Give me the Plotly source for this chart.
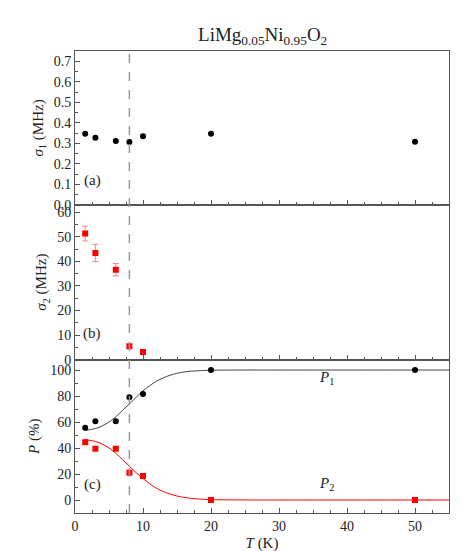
import plotly.graph_objects as go

T = [1.5, 3, 6, 8, 10, 20, 50]
sigma1 = [0.347, 0.327, 0.311, 0.306, 0.334, 0.347, 0.308]
T2 = [1.5, 3, 6, 8, 10]
sigma2 = [51.3, 43.4, 36.6, 5.4, 3.1]
sigma2_err = [3.0, 3.5, 2.5, 0.8, 0.6]
P1 = [55.5, 60.5, 60.5, 79, 81.5, 100, 100]
P2 = [44.5, 39.5, 39.5, 21, 18.5, 0, 0]
fitT = [1.5, 3, 4, 5, 6, 7, 8, 9, 10, 11, 12, 13, 14, 16, 18, 20, 25, 30, 55]
fitP1 = [53.5, 55, 57, 60, 64, 69, 74, 79, 84, 88, 91.5, 94, 96, 98.5, 99.4, 99.8, 100, 100, 100]
fitP2 = [46.5, 45, 43, 40, 36, 31, 26, 21, 16.5, 12.5, 9, 6.5, 4.5, 2, 0.8, 0.3, 0.05, 0, 0]

F = "Liberation Serif, Times New Roman, serif"
fig = go.Figure()
fig.add_trace(go.Scatter(x=T, y=sigma1, mode="markers", marker=dict(color="black", size=6), xaxis="x3", yaxis="y3"))
fig.add_trace(go.Scatter(x=T2, y=sigma2, mode="markers", marker=dict(color="red", size=6, symbol="square"),
                         error_y=dict(array=sigma2_err, color="#e88", thickness=1, width=3), xaxis="x2", yaxis="y2"))
fig.add_trace(go.Scatter(x=fitT, y=fitP1, mode="lines", line=dict(color="#444", width=1, shape="spline"), xaxis="x", yaxis="y"))
fig.add_trace(go.Scatter(x=fitT, y=fitP2, mode="lines", line=dict(color="red", width=1, shape="spline"), xaxis="x", yaxis="y"))
fig.add_trace(go.Scatter(x=T, y=P1, mode="markers", marker=dict(color="black", size=6), xaxis="x", yaxis="y"))
fig.add_trace(go.Scatter(x=T, y=P2, mode="markers", marker=dict(color="red", size=6, symbol="square"), xaxis="x", yaxis="y"))

def mn(d):
    return dict(ticks="inside", ticklen=3, tickcolor="#555", dtick=d)

ax = dict(showgrid=False, zeroline=False, showline=True, linecolor="#555", linewidth=1, mirror=True,
          ticks="inside", ticklen=5, tickcolor="#555", tickfont=dict(size=14, family=F))
xcommon = dict(ax, range=[0, 55], dtick=10, minor=mn(2.5))
tf = dict(size=15, family=F)
fig.update_layout(
    width=463, height=551, plot_bgcolor="white", paper_bgcolor="white", showlegend=False,
    margin=dict(l=67, r=22, t=43, b=46), font=dict(family=F, color="#222"),
    title=dict(text="LiMg<sub>0.05</sub>Ni<sub>0.95</sub>O<sub>2</sub>", x=0.55, xanchor="center", y=0.965, font=dict(size=19, family=F)),
    xaxis=dict(xcommon, anchor="y", title=dict(text="<i>T</i> (K)", font=tf, standoff=4)),
    xaxis2=dict(xcommon, anchor="y2", matches="x", showticklabels=False),
    xaxis3=dict(xcommon, anchor="y3", matches="x", showticklabels=False),
    yaxis=dict(ax, anchor="x", domain=[0, 0.332], range=[-10, 108], dtick=20, minor=mn(10),
               title=dict(text="<i>P</i> (%)", font=tf, standoff=6)),
    yaxis2=dict(ax, anchor="x2", domain=[0.332, 0.667], range=[0, 63], dtick=10, minor=mn(5),
                title=dict(text="<i>σ</i><sub>2</sub> (MHz)", font=tf, standoff=6)),
    yaxis3=dict(ax, anchor="x3", domain=[0.667, 1], range=[0, 0.75], dtick=0.1, tickformat=".1f", minor=mn(0.05),
                title=dict(text="<i>σ</i><sub>1</sub> (MHz)", font=tf, standoff=6)),
)
fig.add_shape(type="line", x0=8, x1=8, xref="x", y0=0, y1=1, yref="paper", line=dict(color="#999", width=1.5, dash="dash"))
fig.add_annotation(text="(a)", x=2.5, y=0.12, xref="x3", yref="y3", showarrow=False, font=tf)
fig.add_annotation(text="(b)", x=2.5, y=10.5, xref="x2", yref="y2", showarrow=False, font=tf)
fig.add_annotation(text="(c)", x=2.5, y=12, xref="x", yref="y", showarrow=False, font=tf)
fig.add_annotation(text="<i>P</i><sub>1</sub>", x=37, y=94, xref="x", yref="y", showarrow=False, font=tf)
fig.add_annotation(text="<i>P</i><sub>2</sub>", x=37, y=12, xref="x", yref="y", showarrow=False, font=tf)
fig.write_html("out.html")
